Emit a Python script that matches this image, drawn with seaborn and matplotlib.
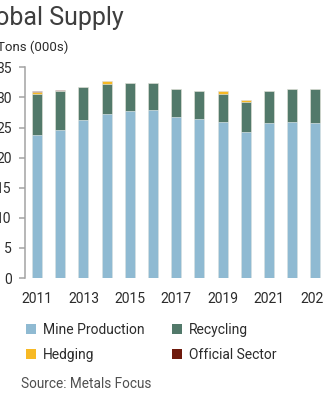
import matplotlib
matplotlib.use("Agg")
import matplotlib.pyplot as plt
from matplotlib.patches import Patch
import numpy as np
import pandas as pd
import seaborn as sns

# Global supply, thousand tons
years = [2011, 2012, 2013, 2014, 2015, 2016, 2017, 2018, 2019, 2020, 2021, 2022, 2023]
mine_production = [23.7, 24.6, 26.2, 27.3, 27.8, 27.9, 26.8, 26.4, 25.9, 24.3, 25.7, 25.9, 25.7]
recycling = [6.8, 6.5, 5.5, 4.9, 4.55, 4.5, 4.55, 4.6, 4.6, 5.0, 5.4, 5.5, 5.65]
hedging = [0.35, 0.0, 0.0, 0.45, 0.12, 0.0, 0.0, 0.0, 0.55, 0.35, 0.0, 0.0, 0.0]
official_sector = [0.25, 0.12, 0.1, 0.0, 0.0, 0.0, 0.0, 0.0, 0.0, 0.0, 0.0, 0.0, 0.0]

series_names = ["Mine Production", "Recycling", "Hedging", "Official Sector"]
colors = {
    "Mine Production": "#8fbad2",
    "Recycling": "#52796a",
    "Hedging": "#f7b924",
    "Official Sector": "#6e1a0c",
}

df = pd.DataFrame({
    "year": [str(y) for y in years],
    "Mine Production": mine_production,
    "Recycling": recycling,
    "Hedging": hedging,
    "Official Sector": official_sector,
})
# cumulative tops for stacking
cum = df[series_names].cumsum(axis=1)

sns.set_style("white")
plt.rcParams["font.family"] = ["Roboto", "DejaVu Sans"]

W, H = 324, 400
fig = plt.figure(figsize=(W / 100, H / 100), dpi=100)
ax_left, ax_right = 25.4, 327.0
ax_bottom, ax_top = 278.0, 67.3
ax = fig.add_axes([ax_left / W, 1 - ax_bottom / H,
                   (ax_right - ax_left) / W, (ax_bottom - ax_top) / H])

# draw tallest cumulative first, then overlay lower segments
for name in reversed(series_names):
    sns.barplot(x=df["year"], y=cum[name], color=colors[name], width=0.43,
                saturation=1, ax=ax, edgecolor="#eef3f5", linewidth=0.4)

ax.set_xlim(-0.5, len(years) - 0.5)
ax.set_ylim(0, 35)
ax.set_yticks(np.arange(0, 36, 5))
ax.set_xticks(range(0, len(years), 2))
ax.set_xticklabels([str(y) for y in years[::2]])
ax.set_xlabel("")
ax.set_ylabel("")

for s in ["top", "right", "bottom"]:
    ax.spines[s].set_visible(False)
ax.spines["left"].set_color("#a3a3a3")
ax.spines["left"].set_linewidth(1.1)
ax.tick_params(axis="y", length=4, width=1.1, color="#a3a3a3", pad=6,
               labelsize=10, labelcolor="#2b2b2b", left=True)
ax.tick_params(axis="x", length=0, pad=10, labelsize=10, labelcolor="#2b2b2b")

fig.text(124 / W, 1 - 25 / H, "Global Supply", ha="right", va="baseline",
         fontsize=18, color="#3e3e3e")
fig.text(68 / W, 1 - 51 / H, "Tons (000s)", ha="right", va="baseline",
         fontsize=9.5, color="#2b2b2b")

handles = [Patch(facecolor=colors[n], edgecolor="none") for n in
           ["Mine Production", "Hedging", "Recycling", "Official Sector"]]
labels = ["Mine Production", "Hedging", "Recycling", "Official Sector"]
fig.legend(handles, labels, ncol=2, frameon=False,
           loc="upper left", bbox_to_anchor=(26 / W, 1 - 323 / H),
           borderpad=0, borderaxespad=0, handlelength=0.7, handleheight=0.7,
           handletextpad=0.5, columnspacing=2.0, labelspacing=0.8,
           fontsize=10, labelcolor="#2b2b2b")

fig.text(21 / W, 1 - 388 / H, "Source: Metals Focus", ha="left",
         va="baseline", fontsize=9.8, color="#505050")

fig.savefig("out.png", dpi=100)
